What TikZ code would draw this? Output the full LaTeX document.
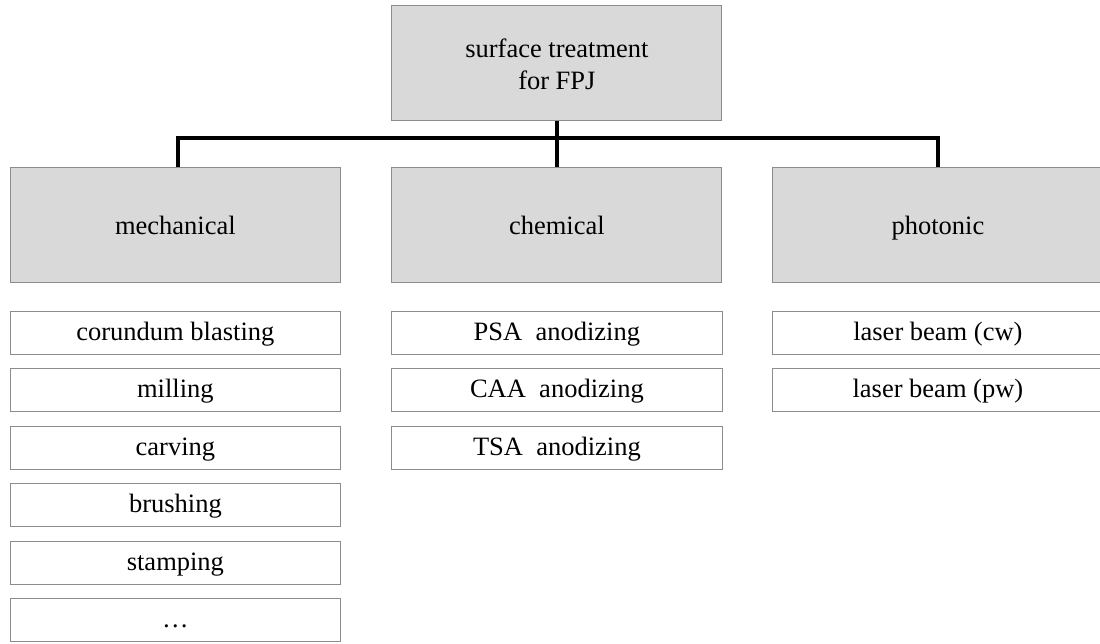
\documentclass[tikz,border=0pt]{standalone}
\usepackage{fontspec}
\setmainfont{Liberation Serif}
\definecolor{boxfill}{HTML}{D9D9D9}
\definecolor{boxline}{HTML}{8C8C8C}
\begin{document}
\begin{tikzpicture}[x=1pt,y=-1pt,
  txt/.style={font=\fontsize{26.5}{32}\selectfont},
  catbox/.style={txt, draw=boxline, line width=1pt, fill=boxfill, rectangle, minimum width=330pt, minimum height=114.5pt, inner sep=0pt, align=center, text height=25pt, text depth=5pt},
  topbox/.style={catbox, minimum height=115pt, text height=57.2pt, text depth=5pt},
  itembox/.style={txt, draw=boxline, line width=1pt, fill=white, rectangle, minimum width=330.5pt, minimum height=43pt, inner sep=0pt, text height=20pt, text depth=5pt},
  bus/.style={line width=3.8pt, black}]
\useasboundingbox (0,0) rectangle (1100,644);
% top
\node[topbox] (top) at (556.9,63.2) {surface treatment\\for FPJ};
% categories
\node[catbox] (mech) at (175.4,224.8) {mechanical};
\node[catbox] (chem) at (556.9,224.8) {chemical};
\node[catbox] (phot) at (937.9,224.8) {photonic};
% bus
\coordinate (busL) at (178.3,137.8);
\coordinate (busR) at (938.3,137.8);
\draw[bus] (top.south) -- (chem.north);
\draw[bus] (mech.north -| busL) -- (busL) -- (busR) -- (phot.north -| busR);
% mechanical items
\node[itembox] (m1) at (175.4,333.0) {corundum blasting};
\node[itembox] (m2) at (175.4,390.0) {milling};
\node[itembox] (m3) at (175.4,447.5) {carving};
\node[itembox] (m4) at (175.4,505.0) {brushing};
\node[itembox] (m5) at (175.4,563.0) {stamping};
\node[itembox] (m6) at (175.4,620.3) {\dots};
% chemical items
\node[itembox] (c1) at (556.9,333.0) {PSA\ \ anodizing};
\node[itembox] (c2) at (556.9,390.0) {CAA\ \ anodizing};
\node[itembox] (c3) at (556.9,447.5) {TSA\ \ anodizing};
% photonic items
\node[itembox] (p1) at (937.9,333.0) {laser beam (cw)};
\node[itembox] (p2) at (937.9,390.0) {laser beam (pw)};
\end{tikzpicture}
\end{document}
